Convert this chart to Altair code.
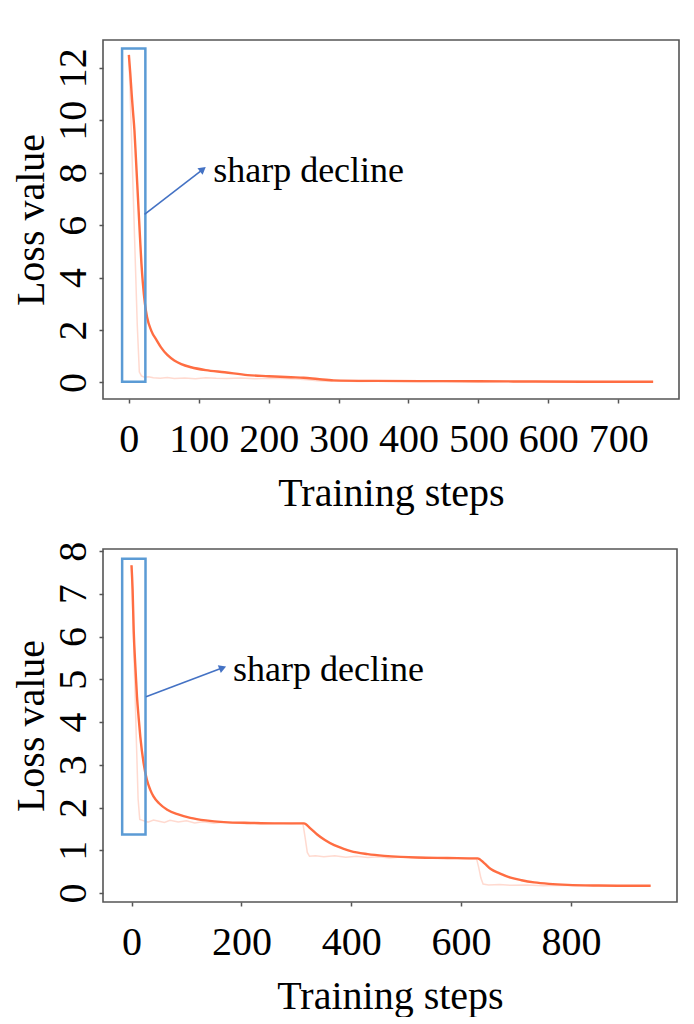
import altair as alt
import pandas as pd

# ---------------- Top panel data ----------------
top_smooth_steps = [0, 2, 4, 6, 8, 10, 13, 16, 18, 20, 23, 26, 32, 40, 46, 55, 65, 75, 89,
                    110, 137, 170, 200, 232, 250, 270, 293, 350, 450, 550, 650, 750]
top_smooth_loss = [12.49, 11.8, 11.0, 10.3, 9.6, 8.6, 7.05, 5.5, 4.53, 3.8, 3.0, 2.5, 1.98,
                   1.6, 1.34, 1.05, 0.84, 0.70, 0.58, 0.47, 0.39, 0.28, 0.24, 0.20, 0.18,
                   0.13, 0.08, 0.06, 0.05, 0.04, 0.03, 0.03]
top_raw_steps = [0, 3, 6, 9, 12, 15, 18, 22, 28, 35, 45, 55, 65, 80, 95, 110, 125, 140, 160,
                 180, 200, 220, 240, 255, 270, 285, 300, 330, 360, 400, 450, 500, 550, 600,
                 650, 700, 750]
top_raw_loss = [12.49, 10.0, 7.4, 4.8, 2.2, 0.4, 0.25, 0.2, 0.22, 0.18, 0.16, 0.19, 0.15,
                0.17, 0.14, 0.18, 0.16, 0.15, 0.17, 0.14, 0.16, 0.15, 0.13, 0.10, 0.07, 0.05,
                0.06, 0.04, 0.05, 0.04, 0.05, 0.03, 0.04, 0.03, 0.04, 0.03, 0.03]
top_x_ticks = [0, 100, 200, 300, 400, 500, 600, 700]
top_y_ticks = [0, 2, 4, 6, 8, 10, 12]
top_x_domain = [-37, 787]
top_y_domain = [-0.63, 13.06]
top_box = {"x": [-9.7], "x2": [23.6], "y": [0.03], "y2": [12.74]}
top_arrow = {"x": [22.4], "y": [6.41], "x2": [105.9], "y2": [8.13]}
top_label = {"x": [120.6], "y": [8.06], "text": ["sharp decline"]}

# ---------------- Bottom panel data ----------------
bot_smooth_steps = [0, 2, 4, 7, 10, 13, 16, 22, 28, 34, 40, 50, 65, 85, 107, 135, 168, 217,
                    260, 290, 314, 325, 338, 352, 369, 385, 399, 430, 460, 490, 520, 575, 630,
                    642, 654, 670, 690, 710, 733, 760, 794, 850, 900, 945]
bot_smooth_loss = [7.67, 7.1, 6.14, 5.3, 4.59, 4.1, 3.66, 3.04, 2.65, 2.42, 2.26, 2.1, 1.95,
                   1.84, 1.76, 1.70, 1.66, 1.64, 1.63, 1.63, 1.63, 1.52, 1.37, 1.24, 1.12,
                   1.04, 0.98, 0.91, 0.87, 0.845, 0.83, 0.82, 0.81, 0.70, 0.56, 0.46, 0.36,
                   0.30, 0.25, 0.215, 0.19, 0.175, 0.17, 0.17]
bot_raw_steps = [0, 3, 6, 9, 12, 15, 20, 30, 40, 50, 60, 70, 85, 100, 115, 130, 150, 170,
                 190, 210, 230, 250, 270, 290, 312, 316, 320, 324, 335, 350, 370, 390, 410,
                 430, 450, 470, 490, 510, 530, 555, 580, 605, 628, 632, 636, 640, 650, 670,
                 690, 720, 750, 780, 810, 850, 900, 945]
bot_raw_loss = [7.67, 6.3, 4.9, 3.5, 2.2, 1.72, 1.70, 1.66, 1.71, 1.68, 1.65, 1.70, 1.66,
                1.69, 1.64, 1.67, 1.63, 1.66, 1.64, 1.62, 1.65, 1.63, 1.64, 1.62, 1.63, 1.3,
                0.95, 0.86, 0.87, 0.85, 0.87, 0.84, 0.86, 0.83, 0.85, 0.82, 0.84, 0.82, 0.83,
                0.81, 0.82, 0.80, 0.81, 0.6, 0.35, 0.21, 0.19, 0.20, 0.18, 0.19, 0.17, 0.18,
                0.17, 0.17, 0.17, 0.17]
bot_x_ticks = [0, 200, 400, 600, 800]
bot_y_ticks = [0, 1, 2, 3, 4, 5, 6, 7, 8]
bot_x_domain = [-51.9, 993]
bot_y_domain = [-0.21, 8.05]
bot_box = {"x": [-17], "x2": [25.5], "y": [1.37], "y2": [7.82]}
bot_arrow = {"x": [26.4], "y": [4.59], "x2": [166], "y2": [5.27]}
bot_label = {"x": [184.7], "y": [5.21], "text": ["sharp decline"]}

LINE = "#ff6d42"
BOX = "#5b9bd5"
ARROW = "#4472c4"
FONT = "Liberation Serif"


def panel(sm_steps, sm_loss, raw_steps, raw_loss, xticks, yticks, xdom, ydom,
          box, arrow, label, head_angle, w, h):
    sm_df = pd.DataFrame({"step": sm_steps, "loss": sm_loss})
    raw_df = pd.DataFrame({"step": raw_steps, "loss": raw_loss})
    x = alt.X("step:Q", scale=alt.Scale(domain=xdom, nice=False, zero=False),
              axis=alt.Axis(values=xticks, title="Training steps"))
    y = alt.Y("loss:Q", scale=alt.Scale(domain=ydom, nice=False, zero=False),
              axis=alt.Axis(values=yticks, title="Loss value"))
    raw = alt.Chart(raw_df).mark_line(color=LINE, opacity=0.25, strokeWidth=1.5).encode(x=x, y=y)
    sm = alt.Chart(sm_df).mark_line(color=LINE, strokeWidth=2.4, interpolate="monotone").encode(
        x="step:Q", y="loss:Q")
    rect = alt.Chart(pd.DataFrame(box)).mark_rect(
        fillOpacity=0, stroke=BOX, strokeWidth=2.5
    ).encode(x="x:Q", x2="x2:Q", y="y:Q", y2="y2:Q")
    ar_df = pd.DataFrame(arrow)
    rule = alt.Chart(ar_df).mark_rule(color=ARROW, strokeWidth=1.6).encode(
        x="x:Q", y="y:Q", x2="x2:Q", y2="y2:Q")
    head = alt.Chart(ar_df).mark_point(
        shape="triangle-up", filled=True, color=ARROW, opacity=1, size=70, angle=head_angle
    ).encode(x="x2:Q", y="y2:Q")
    txt = alt.Chart(pd.DataFrame(label)).mark_text(
        align="left", baseline="middle", font=FONT, fontSize=36, color="black"
    ).encode(x="x:Q", y="y:Q", text="text:N")
    return alt.layer(raw, sm, rect, rule, head, txt).properties(width=w, height=h)


top = panel(top_smooth_steps, top_smooth_loss, top_raw_steps, top_raw_loss, top_x_ticks,
            top_y_ticks, top_x_domain, top_y_domain, top_box, top_arrow, top_label, 52, 576, 359)
bottom = panel(bot_smooth_steps, bot_smooth_loss, bot_raw_steps, bot_raw_loss, bot_x_ticks,
               bot_y_ticks, bot_x_domain, bot_y_domain, bot_box, bot_arrow, bot_label, 69, 574, 353)

chart = alt.vconcat(top, bottom, spacing=26).properties(
    padding={"top": 31, "left": 2, "right": 0, "bottom": 0},
    background="white",
).configure_view(
    stroke="#555555", strokeWidth=1.6
).configure_axis(
    domain=False, grid=False, tickColor="#555555", tickSize=4, tickWidth=1.5,
    labelFont=FONT, labelFontSize=40, labelColor="black", labelFlush=False,
    labelOverlap=False, titleFont=FONT, titleFontSize=40, titleFontWeight="normal",
    titleColor="black"
).configure_axisX(
    labelPadding=16, titlePadding=14
).configure_axisY(
    labelAngle=270, labelAlign="center", labelBaseline="bottom", labelPadding=6,
    titlePadding=2
)

chart.save("out.html", embed_options={"renderer": "svg", "actions": False})
